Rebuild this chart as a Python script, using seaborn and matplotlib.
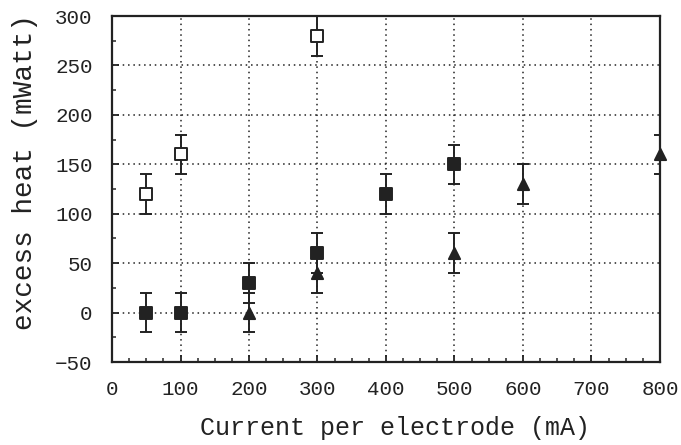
import numpy as np
import pandas as pd
import matplotlib
matplotlib.use("Agg")
import matplotlib.pyplot as plt
import matplotlib.ticker as mticker
import seaborn as sns

# ── Data ───────────────────────────────────────────────────────────────────────
open_x = [50, 100, 300]
open_y = [120, 160, 280]
open_err = [20, 20, 20]

sq_x = [50, 100, 200, 300, 400, 500]
sq_y = [0, 0, 30, 60, 120, 150]
sq_err = [20, 20, 20, 20, 20, 20]

tri_x = [200, 300, 500, 600, 800]
tri_y = [0, 40, 60, 130, 160]
tri_err = [20, 20, 20, 20, 20]

x_ticks = [0, 100, 200, 300, 400, 500, 600, 700, 800]
y_ticks = [-50, 0, 50, 100, 150, 200, 250, 300]

# ── Plot ───────────────────────────────────────────────────────────────────────
sns.set_style("ticks")
plt.rcParams["font.family"] = ["Liberation Mono", "DejaVu Sans Mono"]

fig = plt.figure(figsize=(6.81, 4.45), dpi=100)
ax = fig.add_axes([0.1645, 0.1865, 0.8045, 0.7775])

series = [
    (open_x, open_y, open_err, "s", "white", 75),
    (sq_x, sq_y, sq_err, "s", "#222222", 75),
    (tri_x, tri_y, tri_err, "^", "#222222", 65),
]

for xs, ys, errs, marker, face, size in series:
    ax.errorbar(xs, ys, yerr=errs, fmt="none", ecolor="#222222",
                elinewidth=1.4, capsize=4.5, capthick=1.4, zorder=3)
    df = pd.DataFrame({"x": xs, "y": ys})
    sns.scatterplot(data=df, x="x", y="y", marker=marker, s=size,
                    color=face, edgecolor="#222222", linewidth=1.4,
                    ax=ax, zorder=4, clip_on=False)

ax.set_xlim(0, 800)
ax.set_ylim(-50, 300)
ax.set_xticks(x_ticks)
ax.set_yticks(y_ticks)
ax.xaxis.set_minor_locator(mticker.MultipleLocator(25))
ax.yaxis.set_minor_locator(mticker.MultipleLocator(25))
ax.tick_params(which="major", direction="in", length=5, width=1.3,
               labelsize=15, colors="#222222")
ax.tick_params(axis="x", which="major", pad=13)
ax.tick_params(axis="y", which="major", pad=14)
ax.tick_params(which="minor", direction="in", length=3, width=1.1)
ax.grid(True, which="major", linestyle=(0, (1, 2.5)), color="#222222",
        linewidth=1.1)

for sp in ax.spines.values():
    sp.set_linewidth(1.6)
    sp.set_color("#222222")

ax.set_xlabel("Current per electrode (mA)", fontsize=18, color="#222222")
ax.set_ylabel("excess heat (mWatt)", fontsize=20, color="#222222")
ax.xaxis.set_label_coords(0.516, -0.155)
ax.yaxis.set_label_coords(-0.135, 0.55)

fig.savefig("out.png", dpi=100)
